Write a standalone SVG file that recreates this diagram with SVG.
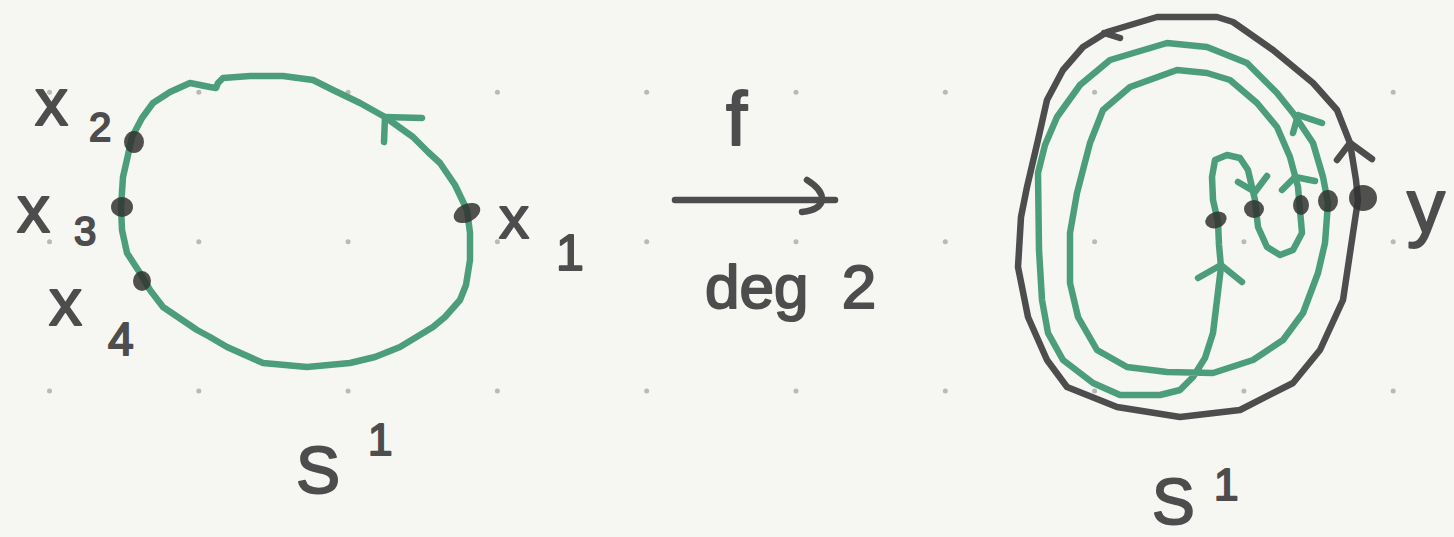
<svg xmlns="http://www.w3.org/2000/svg" width="1454" height="537" viewBox="0 0 1454 537">
<style>
.bg{fill:#f6f7f2}
.grid circle{fill:#b9b9b6}
.green{fill:none;stroke:#4c9e7b;stroke-width:6.5;stroke-linecap:round;stroke-linejoin:round}
.ink{fill:none;stroke:#4d4d4d;stroke-width:6.5;stroke-linecap:round;stroke-linejoin:round}
.dot{fill:#333;opacity:0.85}
.lbl{font-family:"Liberation Sans",Arial,sans-serif;fill:#4d4d4d;stroke:#4d4d4d;stroke-width:2;stroke-linejoin:round}
</style>
<rect class="bg" x="0" y="0" width="1454" height="537"/>
<g class="grid">
<circle cx="49.5" cy="92.3" r="2.5"/><circle cx="198.8" cy="92.3" r="2.5"/><circle cx="348.1" cy="92.3" r="2.5"/><circle cx="497.4" cy="92.3" r="2.5"/><circle cx="646.7" cy="92.3" r="2.5"/><circle cx="796" cy="92.3" r="2.5"/><circle cx="945.3" cy="92.3" r="2.5"/><circle cx="1094.6" cy="92.3" r="2.5"/><circle cx="1243.9" cy="92.3" r="2.5"/><circle cx="1393.2" cy="92.3" r="2.5"/>
<circle cx="49.5" cy="241.7" r="2.5"/><circle cx="198.8" cy="241.7" r="2.5"/><circle cx="348.1" cy="241.7" r="2.5"/><circle cx="497.4" cy="241.7" r="2.5"/><circle cx="646.7" cy="241.7" r="2.5"/><circle cx="796" cy="241.7" r="2.5"/><circle cx="945.3" cy="241.7" r="2.5"/><circle cx="1094.6" cy="241.7" r="2.5"/><circle cx="1243.9" cy="241.7" r="2.5"/><circle cx="1393.2" cy="241.7" r="2.5"/>
<circle cx="49.5" cy="391" r="2.5"/><circle cx="198.8" cy="391" r="2.5"/><circle cx="348.1" cy="391" r="2.5"/><circle cx="497.4" cy="391" r="2.5"/><circle cx="646.7" cy="391" r="2.5"/><circle cx="796" cy="391" r="2.5"/><circle cx="945.3" cy="391" r="2.5"/><circle cx="1094.6" cy="391" r="2.5"/><circle cx="1243.9" cy="391" r="2.5"/><circle cx="1393.2" cy="391" r="2.5"/>
</g>

<g id="domain-circle">
<path class="green" d="M190,83 L210,87 L216,88 L218,83 L223,78 L250,76 L283,76 L313,80 L333,90 L360,103 L385,117 L413,137 L428,152 L440,163 L455,185 L467,210 L470,233 L470,260 L466,285 L460,300 L445,317 L433,327 L400,347 L375,357 L350,363 L307,367 L263,363 L227,347 L210,337 L197,330 L163,307 L150,290 L140,273 L127,253 L122,230 L121,207 L123,177 L128,155 L132,137 L142,118 L153,103 L170,92 Z"/>
<path class="green" d="M384,142 L385,117 L422,118"/>
<text class="lbl" x="296" y="493" font-size="66">S<tspan x="368" y="455" font-size="44">1</tspan></text>
</g>

<g id="point-x1">
<ellipse class="dot" cx="467" cy="213" rx="14" ry="9" transform="rotate(-25 467 213)"/>
<text class="lbl" x="499" y="238" font-size="60">x<tspan x="556" y="270" font-size="50">1</tspan></text>
</g>
<g id="point-x2">
<ellipse class="dot" cx="134" cy="142" rx="10" ry="11"/>
<text class="lbl" x="35" y="125" font-size="66">x<tspan x="89" y="141" font-size="40">2</tspan></text>
</g>
<g id="point-x3">
<ellipse class="dot" cx="122" cy="207" rx="11" ry="10"/>
<text class="lbl" x="17" y="232" font-size="66">x<tspan x="74" y="245" font-size="40">3</tspan></text>
</g>
<g id="point-x4">
<ellipse class="dot" cx="142" cy="281" rx="9" ry="10"/>
<text class="lbl" x="49" y="325" font-size="66">x<tspan x="108" y="355" font-size="46">4</tspan></text>
</g>

<g id="codomain-circle">
<path class="ink" d="M1107,32 L1157,17 L1217,17 L1233,22 L1273,50 L1313,83 L1337,110 L1350,143 L1356,180 L1358,200 L1353,233 L1343,300 L1320,350 L1293,383 L1240,410 L1180,417 L1117,407 L1067,387 L1047,360 L1028,317 L1018,267 L1021,217 L1027,187 L1038,140 L1047,100 L1063,70 L1083,47 Z"/>
<path class="ink" d="M1104,33 L1120,38"/>
<path class="ink" d="M1337,160 L1350,143 L1372,159"/>
<text class="lbl" x="1152" y="524" font-size="64">S<tspan x="1214" y="500" font-size="44">1</tspan></text>
</g>

<g id="preimage-loop">
<path class="green" d="M1218,222 L1219,245 L1221,267 L1217,300 L1213,333 L1205,358 L1193,377 L1180,390 L1160,395 L1120,395 L1093,383 L1063,360 L1048,333 L1042,300 L1039,250 L1038,173 L1045,145 L1057,117 L1080,85 L1110,60 L1167,43 L1207,47 L1247,63 L1277,93 L1293,113 L1313,143 L1323,177 L1328,203 L1325,243 L1318,273 L1303,313 L1283,340 L1253,360 L1213,373 L1167,372 L1127,367 L1097,350 L1078,317 L1070,283 L1070,233 L1077,193 L1090,143 L1103,110 L1130,87 L1177,70 L1207,73 L1230,80 L1257,103 L1277,127 L1290,157 L1298,187 L1302,233 L1293,250 L1280,255 L1267,247 L1258,227 L1255,200 L1248,170 L1240,158 L1227,155 L1215,160 L1212,177 L1213,200 L1218,222"/>
<path class="green" d="M1293,133 L1298,115 L1322,123"/>
<path class="green" d="M1282,190 L1295,177 L1315,181"/>
<path class="green" d="M1238,182 L1255,192 L1267,176"/>
<path class="green" d="M1198,278 L1221,265 L1242,282"/>
</g>

<g id="point-preimages">
<ellipse class="dot" cx="1216" cy="220" rx="11" ry="8" transform="rotate(-20 1216 220)"/>
<ellipse class="dot" cx="1254" cy="209" rx="10" ry="9"/>
<ellipse class="dot" cx="1301" cy="205" rx="8" ry="10"/>
<ellipse class="dot" cx="1328" cy="201" rx="10" ry="11"/>
</g>
<g id="point-y">
<ellipse class="dot" cx="1363" cy="198" rx="14" ry="13"/>
<text class="lbl" x="1407" y="232" font-size="76">y</text>
</g>

<g id="connectors">
<path class="ink" d="M675,200 L835,200"/>
<path class="ink" d="M807,180 Q823,190 822,200 Q820,210 802,212"/>
<text class="lbl" x="726" y="145" font-size="76">f</text>
<text class="lbl" x="705" y="308" font-size="62" word-spacing="16">deg 2</text>
</g>
</svg>
